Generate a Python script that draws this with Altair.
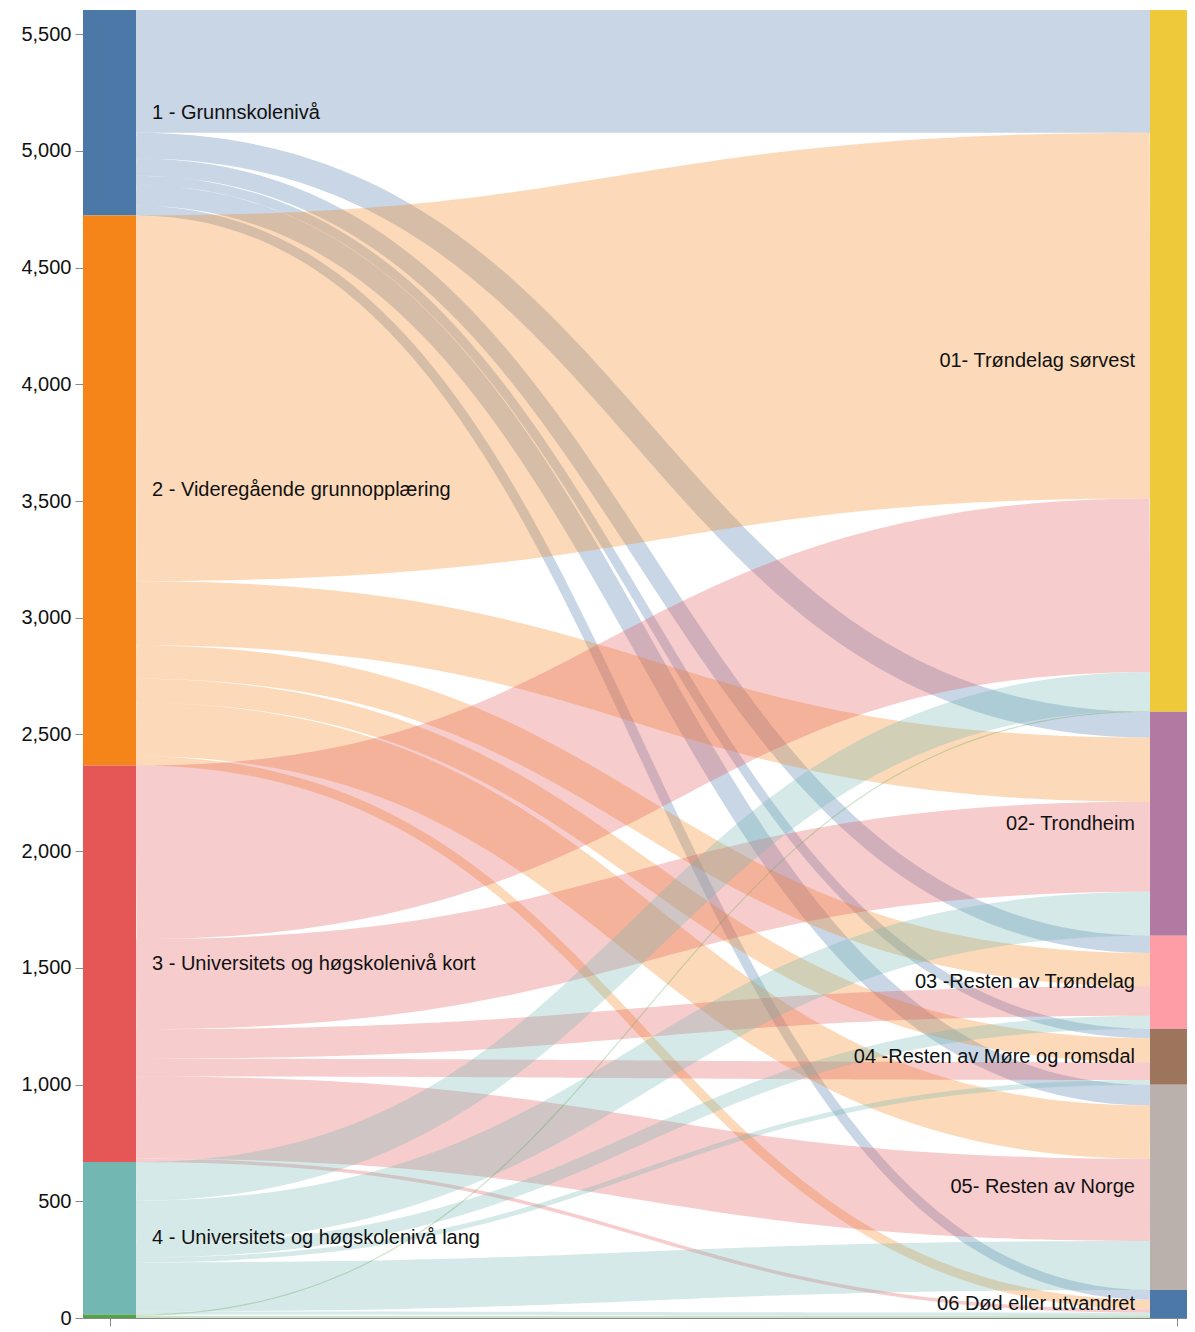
import numpy as np
import pandas as pd
import altair as alt

# ---- data ----
sources = ["1 - Grunnskolenivå", "2 - Videregående grunnopplæring",
           "3 - Universitets og høgskolenivå kort", "4 - Universitets og høgskolenivå lang", ""]
targets = ["01- Trøndelag sørvest", "02- Trondheim", "03 -Resten av Trøndelag",
           "04 -Resten av Møre og romsdal", "05- Resten av Norge", "06 Død eller utvandret"]
# flows from each source to targets 01..06
flow_1 = [526, 110, 74, 40, 88, 42]
flow_2 = [1567, 275, 143, 103, 229, 40]
flow_3 = [744, 386, 126, 76, 352, 15]
flow_4 = [165, 188, 56, 21, 210, 13]
flow_5 = [5, 0, 0, 0, 0, 10]
flows = [flow_1, flow_2, flow_3, flow_4, flow_5]

source_colors = ["#4c78a8", "#f58518", "#e45756", "#72b7b2", "#54a24b"]
target_colors = ["#eeca3b", "#b279a2", "#ff9da6", "#9d755d", "#bab0ac", "#4c78a8"]

# ---- layout ----
W, H = 1104, 1308
L_NODE = 53 / W            # left node width (fraction of plot width)
R_START = 1067 / W         # right node starts here
TICKS = [26.5 / W, 1094 / W]
FONT = "Liberation Sans"
FS = 20

F = np.array(flows, dtype=float)
total = F.sum()
s_sum = F.sum(axis=1)
t_sum = F.sum(axis=0)
s_top = total - np.concatenate([[0], np.cumsum(s_sum)[:-1]])
t_top = total - np.concatenate([[0], np.cumsum(t_sum)[:-1]])

nodes = []
for i, name in enumerate(sources):
    nodes.append(dict(name=name, x0=0.0, x1=L_NODE, y0=s_top[i] - s_sum[i], y1=s_top[i],
                      ym=s_top[i] - s_sum[i] / 2, color=source_colors[i], side="L"))
for j, name in enumerate(targets):
    nodes.append(dict(name=name, x0=R_START, x1=1.0, y0=t_top[j] - t_sum[j], y1=t_top[j],
                      ym=t_top[j] - t_sum[j] / 2, color=target_colors[j], side="R"))
node_df = pd.DataFrame(nodes)

# source-side and target-side stacking
src_off = np.zeros(len(sources))
tgt_off = np.zeros(len(targets))
src_c = {}
tgt_c = {}
for i in range(len(sources)):
    for j in range(len(targets)):
        v = F[i, j]
        src_c[(i, j)] = s_top[i] - src_off[i] - v / 2
        src_off[i] += v
for j in range(len(targets)):
    for i in range(len(sources)):
        v = F[i, j]
        tgt_c[(i, j)] = t_top[j] - tgt_off[j] - v / 2
        tgt_off[j] += v

tt = np.linspace(0, 1, 80)
rows = []
x0, x1 = L_NODE, R_START
for i in range(len(sources)):
    for j in range(len(targets)):
        v = F[i, j]
        if v <= 0:
            continue
        y0, y1 = src_c[(i, j)], tgt_c[(i, j)]
        xs = x0 + (x1 - x0) * (1.5 * tt * (1 - tt) + tt ** 3)
        ys = y0 + (y1 - y0) * (3 * tt ** 2 - 2 * tt ** 3)
        for k in range(len(tt)):
            rows.append(dict(link=f"{i}-{j}", t=k, x=xs[k], y=ys[k], value=v,
                             color=source_colors[i]))
link_df = pd.DataFrame(rows)

xscale = alt.Scale(domain=[0, 1], nice=False, zero=False)
yscale = alt.Scale(domain=[0, total], nice=False)
xaxis = alt.Axis(values=TICKS, labels=False, grid=False, tickSize=8,
                 domainColor="#888", tickColor="#888", title=None)
yaxis = alt.Axis(values=list(range(0, 5501, 500)), labelExpr="format(datum.value, ',')",
                 grid=False, tickSize=8, labelPadding=4, labelFont=FONT, labelFontSize=FS,
                 labelColor="#111", domainColor="#888", tickColor="#888", title=None)

links = alt.Chart(link_df).mark_line(strokeOpacity=0.3, strokeCap="butt").encode(
    x=alt.X("x:Q", scale=xscale, axis=xaxis),
    y=alt.Y("y:Q", scale=yscale, axis=yaxis),
    detail="link:N",
    order="t:Q",
    color=alt.Color("color:N", scale=None),
    strokeWidth=alt.StrokeWidth("value:Q", scale=alt.Scale(domain=[0, total], range=[0, H]),
                                legend=None),
)

node_rects = alt.Chart(node_df).mark_rect().encode(
    x=alt.X("x0:Q", scale=xscale, axis=xaxis),
    x2="x1:Q",
    y=alt.Y("y0:Q", scale=yscale, axis=yaxis),
    y2="y1:Q",
    color=alt.Color("color:N", scale=None),
)

left_labels = alt.Chart(node_df[node_df.side == "L"]).mark_text(
    align="left", baseline="middle", dx=16, font=FONT, fontSize=FS, color="#111"
).encode(
    x=alt.X("x1:Q", scale=xscale, axis=xaxis),
    y=alt.Y("ym:Q", scale=yscale, axis=yaxis),
    text="name:N",
)

right_labels = alt.Chart(node_df[node_df.side == "R"]).mark_text(
    align="right", baseline="middle", dx=-15, font=FONT, fontSize=FS, color="#111"
).encode(
    x=alt.X("x0:Q", scale=xscale, axis=xaxis),
    y=alt.Y("ym:Q", scale=yscale, axis=yaxis),
    text="name:N",
)

chart = alt.layer(links, node_rects, left_labels, right_labels).properties(
    width=W, height=H,
    autosize=alt.AutoSizeParams(type="none"),
    padding={"left": 75, "top": 2, "right": 0, "bottom": 12},
).configure_view(stroke=None)

chart.save("out.html", embed_options={"renderer": "svg", "actions": False})
